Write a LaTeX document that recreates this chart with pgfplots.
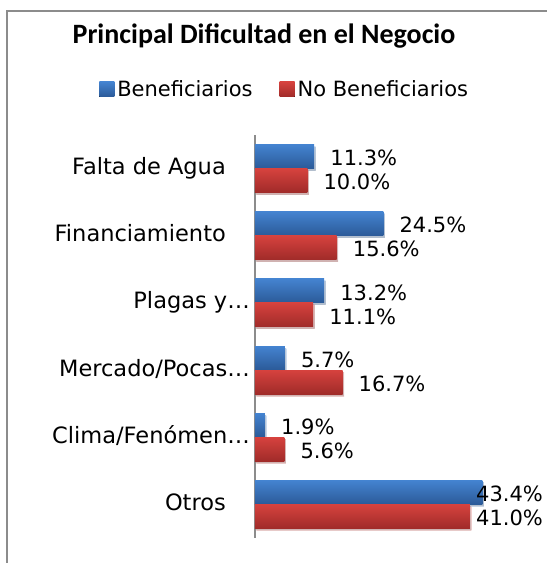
\documentclass[border=0pt]{standalone}
\usepackage{fontspec}
\setmainfont{DejaVu Sans}
\newfontfamily\titlefont{Carlito}
\usepackage{pgfplots}
\usepackage{pgfplotstable}
\pgfplotsset{compat=1.18}
\usetikzlibrary{shadows}
\definecolor{blueT}{HTML}{4483D0}
\definecolor{blueB}{HTML}{2B5A98}
\definecolor{redT}{HTML}{D6423E}
\definecolor{redB}{HTML}{A02B29}
\definecolor{framegray}{HTML}{8C8C8C}
\pgfplotstableread{
idx ben noben
1 11.3 10.0
2 24.5 15.6
3 13.2 11.1
4 5.7 16.7
5 1.9 5.6
6 43.4 41.0
}\datatable
\begin{document}
\begin{tikzpicture}
\useasboundingbox (0,0) rectangle (547pt,563pt);
\draw[framegray, line width=1.5pt] (7pt,0pt) -- (7pt,552pt) -- (547pt,552pt);
\node[anchor=base, inner sep=0pt, font=\titlefont\bfseries\fontsize{28}{32}\selectfont] at (264pt,519.7pt) {Principal Dificultad en el Negocio};
\begin{axis}[
  at={(255pt,25pt)}, anchor=south west,
  scale only axis, width=262pt, height=403pt,
  xmin=0, xmax=50, ymin=0.5, ymax=6.5, y dir=reverse,
  axis x line=none, axis y line=left,
  y axis line style={-, draw=framegray, line width=1.5pt},
  ytick={1,2,3,4,5,6},
  yticklabels={Falta de Agua\hspace*{24pt}, Financiamiento\hspace*{24pt}, Plagas y…, Mercado/Pocas…, Clima/Fenómen…, Otros\hspace*{24pt}},
  yticklabel style={anchor=base east, inner sep=0pt, xshift=-5pt, yshift=-6pt, font=\fontsize{22.5}{26}\selectfont},
  major tick length=0pt,
  xbar, bar width=24pt,
  clip=false,
  point meta=x,
  nodes near coords={\pgfmathprintnumber[fixed,fixed zerofill,precision=1,assume math mode=true]{\pgfplotspointmeta}\%},
  visualization depends on={rawx \as \rawx},
  every node near coord/.append style={anchor=west, inner sep=0pt, font=\fontsize{21}{24}\selectfont, text=black, xshift={ifthenelse(\rawx>40, 221-5.24*\rawx, 16)}, yshift=-1.5pt},
  legend columns=2,
  legend style={at={(-0.595,1.113)}, anchor=west, draw=none, fill=none, inner sep=0pt,
    font=\fontsize{21}{25}\selectfont,
    nodes={inner sep=3pt},
    /tikz/every even column/.append style={column sep=24pt}},
]
\pgfplotsinvokeforeach{0,...,5}{
\addplot[forget plot, draw=none, top color=blueT, bottom color=blueB, bar shift=12pt,
  drop shadow={shadow xshift=1.5pt, shadow yshift=-2pt, opacity=0.25},
  x filter/.code={\ifnum\coordindex=#1\relax\else\def\pgfmathresult{}\fi}]
  table[x=ben, y=idx] {\datatable};
\addplot[forget plot, draw=none, top color=redT, bottom color=redB, bar shift=-12pt,
  drop shadow={shadow xshift=1.5pt, shadow yshift=-2pt, opacity=0.25},
  x filter/.code={\ifnum\coordindex=#1\relax\else\def\pgfmathresult{}\fi}]
  table[x=noben, y=idx] {\datatable};
}
\addlegendimage{draw=none, legend image code/.code={\fill[draw=none, top color=blueT, bottom color=blueB] (-2pt,-7.5pt) rectangle (13pt,7.5pt);}}
\addlegendentry{Beneficiarios}
\addlegendimage{draw=none, legend image code/.code={\fill[draw=none, top color=redT, bottom color=redB] (-2pt,-7.5pt) rectangle (13pt,7.5pt);}}
\addlegendentry{No Beneficiarios}
\end{axis}
\end{tikzpicture}
\end{document}
